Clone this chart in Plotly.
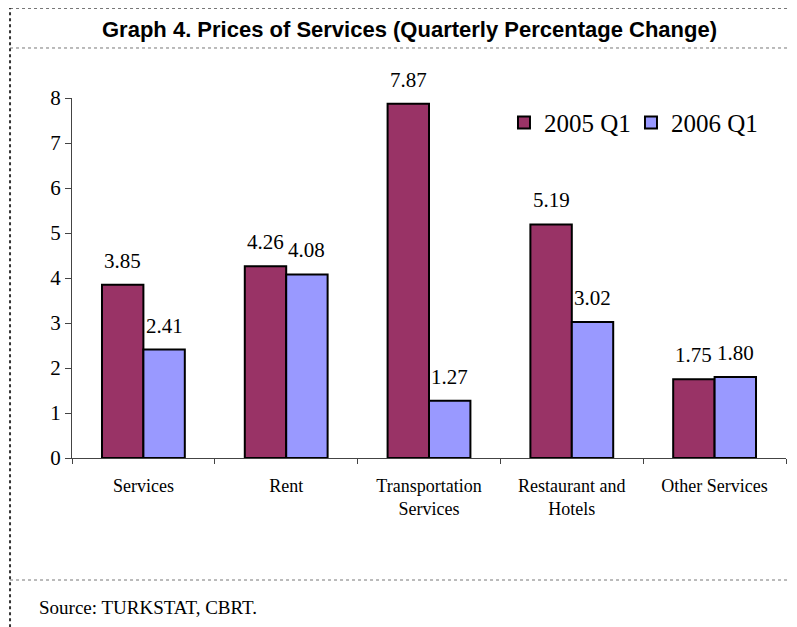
import plotly.graph_objects as go

categories = ["Services", "Rent", "Transportation<br>Services", "Restaurant and<br>Hotels", "Other Services"]
q1_2005 = [3.85, 4.26, 7.87, 5.19, 1.75]
q1_2006 = [2.41, 4.08, 1.27, 3.02, 1.80]
y_ticks = [0, 1, 2, 3, 4, 5, 6, 7, 8]

serif = "Liberation Serif, Times New Roman, serif"
narrow = "Liberation Sans Narrow, Arial Narrow, Liberation Sans, sans-serif"

fig = go.Figure()

fig.add_trace(
    go.Bar(
        x=categories,
        y=q1_2005,
        name="2005 Q1",
        marker={"color": "#993366", "line": {"color": "black", "width": 2}},
    )
)
fig.add_trace(
    go.Bar(
        x=categories,
        y=q1_2006,
        name="2006 Q1",
        marker={"color": "#9999FF", "line": {"color": "black", "width": 2}},
    )
)

# value labels above each bar
for i, cat in enumerate(categories):
    for vals, shift in ((q1_2005, -20.7), (q1_2006, 20.7)):
        fig.add_annotation(
            x=cat,
            y=vals[i],
            text=f"{vals[i]:.2f}",
            showarrow=False,
            xshift=shift,
            yshift=24,
            font={"family": serif, "size": 21, "color": "black"},
        )

# dotted frame lines (page has an 8px body margin, figure is 789x619)
dot = {"color": "#777777", "width": 1, "dash": "dot"}
fig.add_shape(type="line", xref="paper", yref="paper", x0=-0.0868, x1=1.02, y0=1.2486, y1=1.2486, line=dot)
fig.add_shape(type="line", xref="paper", yref="paper", x0=-0.0868, x1=1.02, y0=1.1389, y1=1.1389, line=dot)
fig.add_shape(type="line", xref="paper", yref="paper", x0=-0.0868, x1=1.02, y0=-0.3389, y1=-0.3389, line=dot)
fig.add_shape(
    type="line", xref="paper", yref="paper", x0=-0.0868, x1=-0.0868, y0=-0.47, y1=1.25,
    line={"color": "#333333", "width": 2, "dash": "dot"},
)

fig.add_annotation(
    text="<b>Graph 4. Prices of Services (Quarterly Percentage Change)</b>",
    xref="paper", yref="paper", x=0.473, y=1.189, xanchor="center", yanchor="middle",
    showarrow=False,
    font={"family": narrow, "size": 22, "color": "black"},
)
fig.add_annotation(
    text="Source: TURKSTAT, CBRT.",
    xref="paper", yref="paper", x=-0.049, y=-0.414, xanchor="left", yanchor="middle",
    showarrow=False,
    font={"family": serif, "size": 19, "color": "black"},
)

fig.update_layout(
    width=789,
    height=619,
    margin={"l": 64, "r": 11, "t": 90, "b": 169},
    paper_bgcolor="white",
    plot_bgcolor="white",
    barmode="group",
    bargap=0.42,
    bargroupgap=0,
    showlegend=True,
    legend={
        "orientation": "h",
        "x": 0.605, "y": 0.995, "xanchor": "left", "yanchor": "top",
        "font": {"family": serif, "size": 25, "color": "black"},
        "itemwidth": 30,
        "entrywidth": 82,
        "entrywidthmode": "pixels",
        "tracegroupgap": 0,
        "bgcolor": "rgba(0,0,0,0)",
    },
    xaxis={
        "showline": True, "linecolor": "#444444", "linewidth": 1,
        "ticks": "outside", "tickson": "boundaries", "ticklen": 5, "tickcolor": "#444444",
        "ticklabelstandoff": 11,
        "tickfont": {"family": serif, "size": 18, "color": "black"},
        "showgrid": False,
    },
    yaxis={
        "range": [0, 8], "tickvals": y_ticks,
        "showline": True, "linecolor": "#444444", "linewidth": 1,
        "ticks": "outside", "ticklen": 6, "tickcolor": "#444444",
        "tickfont": {"family": serif, "size": 21, "color": "black"},
        "showgrid": False, "zeroline": False,
    },
)

fig.write_html("out.html")
